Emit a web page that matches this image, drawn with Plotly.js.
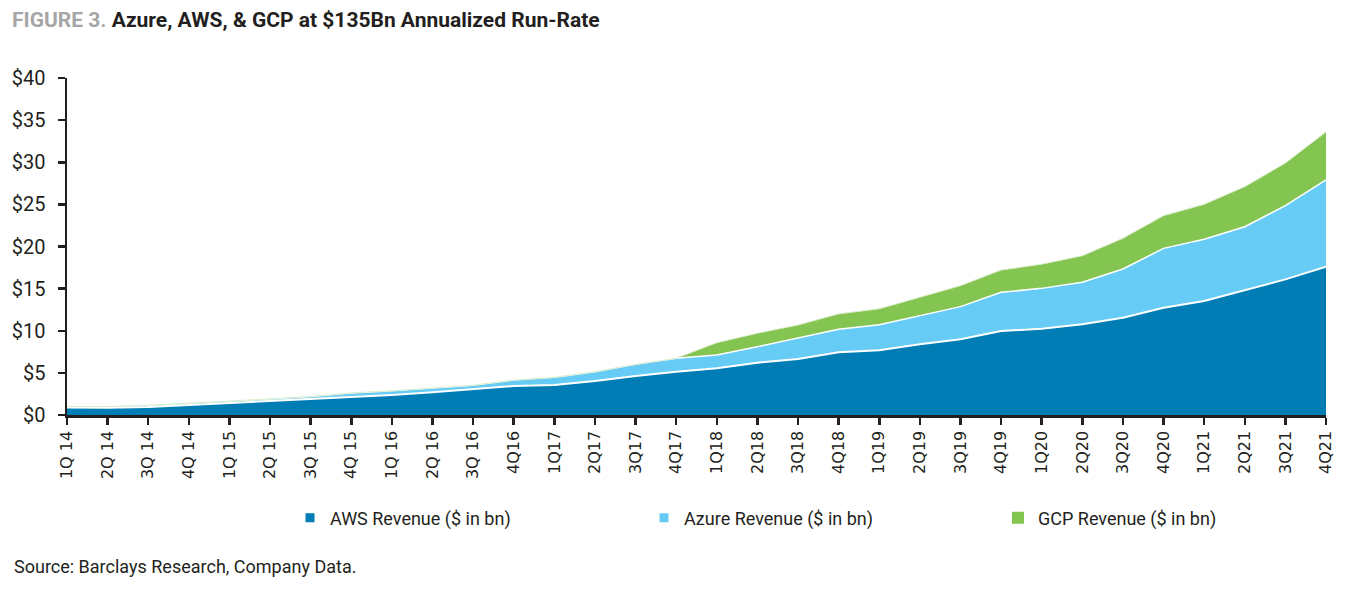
<!DOCTYPE html>
<html>
<head>
<meta charset="utf-8">
<script src="https://cdn.plot.ly/plotly-3.0.1.min.js"></script>
<style>html,body{margin:0;padding:0;background:#fff;}#chart{width:1346px;height:589px;}</style>
</head>
<body>
<div id="chart"></div>
<script>
const quarters = ["1Q 14","2Q 14","3Q 14","4Q 14","1Q 15","2Q 15","3Q 15","4Q 15","1Q 16","2Q 16","3Q 16","4Q16",
  "1Q17","2Q17","3Q17","4Q17","1Q18","2Q18","3Q18","4Q18","1Q19","2Q19","3Q19","4Q19",
  "1Q20","2Q20","3Q20","4Q20","1Q21","2Q21","3Q21","4Q21"];
const awsRevenue = [0.9,0.85,0.95,1.19,1.38,1.66,1.9,2.17,2.37,2.69,3.08,3.44,
  3.56,4.04,4.63,5.14,5.54,6.21,6.65,7.44,7.7,8.4,9.0,9.97,
  10.25,10.76,11.55,12.74,13.53,14.84,16.1,17.6];
const azureRevenue = [0.1,0.15,0.2,0.2,0.25,0.25,0.3,0.45,0.5,0.55,0.45,0.71,
  0.91,1.1,1.38,1.59,1.58,1.9,2.45,2.73,3.0,3.35,3.86,4.59,
  4.78,4.99,5.78,7.04,7.32,7.51,8.75,10.3];
const gcpRevenue = [0,0,0,0,0,0,0,0,0,0,0,0,
  0,0,0,0,1.46,1.59,1.58,1.83,1.9,2.22,2.49,2.64,
  2.87,3.15,3.64,3.88,4.15,4.75,5.05,5.7];
const seriesNames = ["AWS Revenue ($ in bn)","Azure Revenue ($ in bn)","GCP Revenue ($ in bn)"];
const seriesColors = ["#007db5","#66ccf5","#84c450"];

const areaTraces = [
  {y: awsRevenue, color: seriesColors[0], line: {color:"#ffffff", width:2}},
  {y: azureRevenue, color: seriesColors[1], line: {color:"#ffffff", width:1.5}},
  {y: gcpRevenue, color: seriesColors[2], line: {color:"#d9ecc9", width:1}}
].map((s, i) => ({
  type: "scatter", mode: "lines", x: quarters, y: s.y, stackgroup: "one",
  fillcolor: s.color, line: s.line, name: seriesNames[i], showlegend: false, hoverinfo: "skip"
}));
const legendTraces = seriesNames.map((n, i) => ({
  type: "scatter", mode: "markers", x: [null], y: [null], name: n,
  marker: {symbol: "square", size: i === 2 ? 12 : 9, color: seriesColors[i]}, showlegend: true
}));

const axisColor = "#231f20";
const layout = {
  width: 1346, height: 589,
  margin: {l: 67, r: 20, t: 78, b: 174, autoexpand: false},
  paper_bgcolor: "#fff", plot_bgcolor: "#fff",
  font: {family: "Roboto, sans-serif", color: "#231f20"},
  title: {
    text: '<span style="color:#a6a6a6">FIGURE 3.</span> Azure, AWS, & GCP at $135Bn Annualized Run-Rate',
    font: {family: "Roboto, sans-serif", size: 21, weight: 700, color: "#231f20"},
    xref: "container", yref: "container", x: 12/1346, xanchor: "left", y: 1 - 20/589, yanchor: "middle"
  },
  xaxis: {
    type: "category", range: [0, quarters.length - 1], showgrid: false, zeroline: false,
    showline: true, linecolor: axisColor, linewidth: 2.5,
    ticks: "outside", ticklen: 7, tickwidth: 2.5, tickcolor: axisColor,
    tickangle: -90, tickfont: {family: "DejaVu Sans, sans-serif", size: 16, color: axisColor},
    fixedrange: true, automargin: false
  },
  yaxis: {
    range: [0, 40], dtick: 5, tick0: 0, tickprefix: "$", showgrid: false, zeroline: false,
    showline: true, linecolor: axisColor, linewidth: 2.5,
    ticks: "outside", ticklen: 7, tickwidth: 2.5, tickcolor: axisColor, ticklabelstandoff: 8,
    tickfont: {family: "Roboto, sans-serif", size: 20, color: axisColor},
    fixedrange: true, automargin: false
  },
  showlegend: true,
  legend: {
    orientation: "h", x: (290 - 67)/1259, xanchor: "left", y: (415 - 518)/337, yanchor: "middle",
    font: {family: "Roboto, sans-serif", size: 18, color: axisColor},
    entrywidth: 309, entrywidthmode: "pixels", itemwidth: 30, traceorder: "normal",
    bgcolor: "rgba(0,0,0,0)"
  },
  annotations: [{
    text: "Source: Barclays Research, Company Data.", showarrow: false,
    xref: "paper", yref: "paper", x: (12 - 67)/1259, xanchor: "left", y: (415 - 566)/337, yanchor: "middle",
    font: {family: "Roboto, sans-serif", size: 18, color: "#231f20"}
  }]
};
Plotly.newPlot("chart", areaTraces.concat(legendTraces), layout, {displayModeBar: false, staticPlot: true});
</script>
</body>
</html>
